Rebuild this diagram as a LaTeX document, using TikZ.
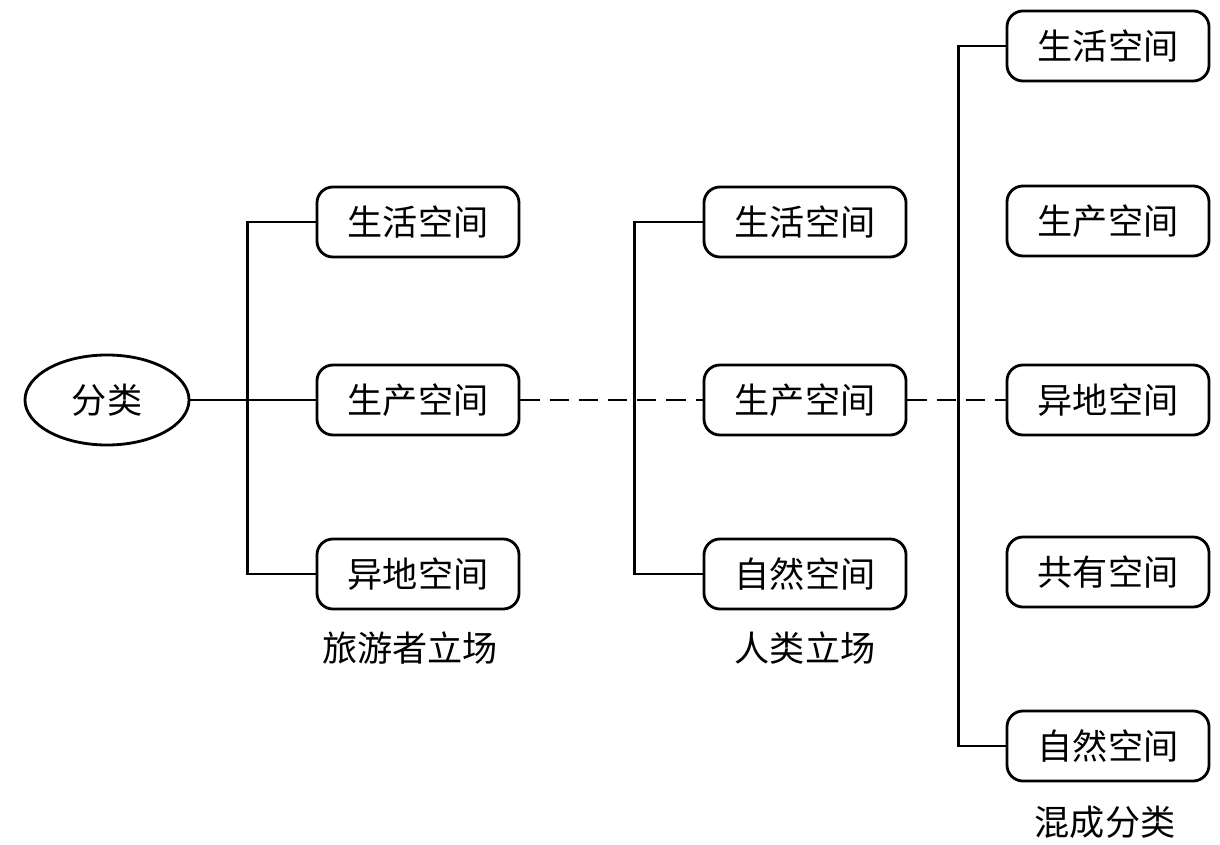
\documentclass[tikz,border=0pt]{standalone}
\usepackage{fontspec}
\setmainfont{Noto Sans CJK SC}
\usetikzlibrary{shapes.geometric}

\tikzset{
    spacebox/.style={draw, line width=2pt, rounded corners=0.4cm,
        minimum width=5.05cm, minimum height=1.75cm,
        font=\fontsize{25}{30}\selectfont},
    rootnode/.style={draw, ellipse, line width=2pt,
        minimum width=4.1cm, minimum height=2.25cm,
        font=\fontsize{25}{30}\selectfont},
    caption/.style={font=\fontsize{25}{30}\selectfont},
    link/.style={line width=2pt},
    dashlink/.style={line width=2pt, dash pattern=on 0.48cm off 0.25cm}
}

\begin{document}
\begin{tikzpicture}[x=0.025cm, y=-0.025cm]
    \useasboundingbox (0,0) rectangle (1220,845);

    \node[rootnode] (root) at (107,400) {分类};

    % tourist view
    \foreach \t/\y [count=\i] in {生活空间/222, 生产空间/400, 异地空间/574}
        \node[spacebox] (a\i) at (418,\y) {\t};
    \node[caption] (capa) at (410,648) {旅游者立场};

    % human view
    \foreach \t/\y [count=\i] in {生活空间/222, 生产空间/400, 自然空间/574}
        \node[spacebox] (b\i) at (805,\y) {\t};
    \node[caption] (capb) at (805,648) {人类立场};

    % mixed
    \foreach \t/\y [count=\i] in {生活空间/46, 生产空间/221, 异地空间/400, 共有空间/572, 自然空间/746}
        \node[spacebox] (c\i) at (1108,\y) {\t};
    \node[caption] (capc) at (1105,822) {混成分类};

    \draw[link] (root) -- (a2);
    \draw[link] (a1.west) -- ++(-68,0) |- (a3.west);
    \draw[link] (b1.west) -- ++(-68,0) |- (b3.west);
    \draw[link] (c1.west) -- ++(-47,0) |- (c5.west);

    \draw[dashlink] (a2.east) -- (b2.west);
    \draw[dashlink] (b2.east) -- (c3.west);
\end{tikzpicture}
\end{document}
